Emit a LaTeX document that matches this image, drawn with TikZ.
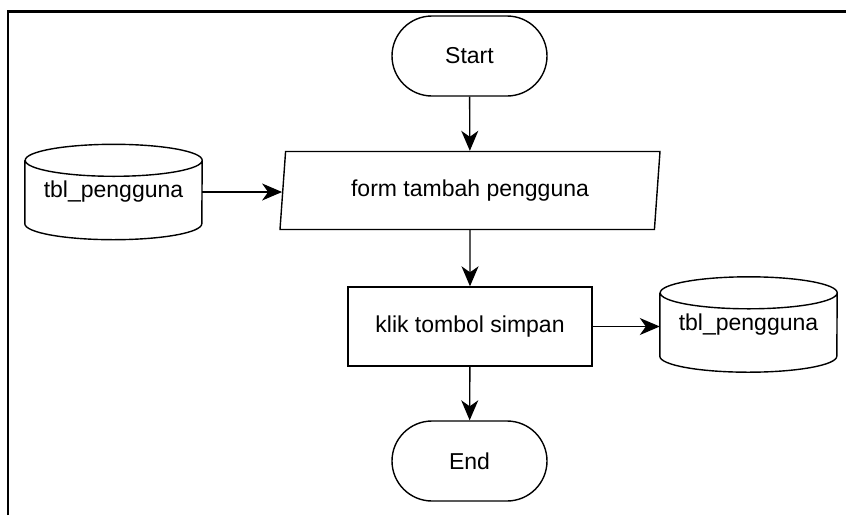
\documentclass[tikz,border=0pt]{standalone}
\usepackage{fontspec}
\setmainfont{Liberation Sans}
\usetikzlibrary{shapes.geometric,shapes.misc,arrows.meta}

\tikzset{
    base/.style={draw, line width=1.4pt, font=\fontsize{23}{27}\selectfont, inner sep=0pt},
    terminal/.style={base, rounded rectangle, minimum width=155pt, minimum height=80pt},
    io/.style={base, trapezium, trapezium left angle=75.4, trapezium right angle=104.6,
        trapezium stretches body, minimum width=380pt, minimum height=78pt},
    process/.style={base, rectangle, minimum width=244pt, minimum height=79pt},
    db/.style={font=\fontsize{23}{27}\selectfont, inner sep=0pt, minimum width=177pt, minimum height=95pt},
    link/.style={-{Stealth[length=20pt, width=17pt, inset=6pt]}, line width=1.4pt}
}

% outline of a database cylinder round a db node
\newcommand\dbshape[1]{%
    \draw[line width=1.4pt] ([yshift=-16pt]#1.north west) -- ([yshift=16pt]#1.south west)
        arc[start angle=180, end angle=360, x radius=88.5pt, y radius=16pt]
        -- ([yshift=-16pt]#1.north east)
        arc[start angle=0, end angle=360, x radius=88.5pt, y radius=16pt];}

\begin{document}
\begin{tikzpicture}[x=1pt, y=1pt]
    \useasboundingbox (0,0) rectangle (846,-515);
    \draw[line width=2.2pt] (8,-515) -- (8,-11.5) -- (846,-11.5);

    \node[terminal] (start) at (469.5,-56) {Start};
    \node[io] (form) at (470,-190.5) {form tambah pengguna};
    \node[process] (simpan) at (470,-326.5) {klik tombol simpan};
    \node[terminal] (stop) at (469.5,-461) {End};

    \node[db] (dbin) at (113.5,-192) {tbl\_pengguna};
    \node[db] (dbout) at (748.5,-324.5) {tbl\_pengguna};
    \dbshape{dbin}
    \dbshape{dbout}

    \draw[link] (start) -- (form);
    \draw[link] (form) -- (simpan);
    \draw[link] (simpan) -- (stop);
    \draw[link] (dbin.east) -- (dbin.east -| form.west);
    \draw[link] (simpan.east) -- (simpan.east -| dbout.west);
\end{tikzpicture}
\end{document}
